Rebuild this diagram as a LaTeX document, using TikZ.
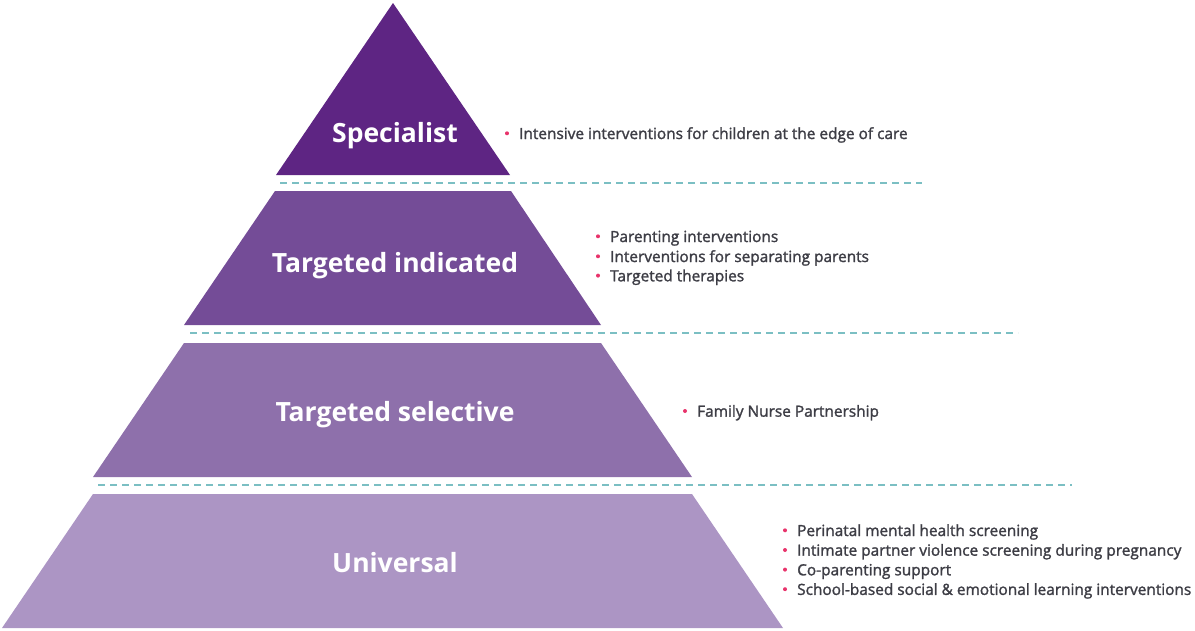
\documentclass[tikz,border=0pt]{standalone}
\usepackage{fontspec}
\setmainfont{Open Sans}
\newfontfamily\medfont{Open Sans}[FakeBold=1.6]
\definecolor{lay1}{HTML}{5E2583}
\definecolor{lay2}{HTML}{744C97}
\definecolor{lay3}{HTML}{8E70AB}
\definecolor{lay4}{HTML}{AC95C4}
\definecolor{teal}{HTML}{7BBFC3}
\definecolor{dotpink}{HTML}{E8336B}
\definecolor{txt}{HTML}{3D3D45}
\tikzset{
  title/.style={anchor=base, text=white, font=\fontsize{26.5}{30}\selectfont\bfseries, inner sep=0pt},
  item/.style={anchor=base west, text=txt, font=\medfont\fontsize{15.4}{18}\selectfont, inner sep=0pt},
  sep/.style={draw=teal, line width=1.5pt, dash pattern=on 7pt off 5pt},
  dot/.style={fill=dotpink},
}
\begin{document}
\begin{tikzpicture}[x=1pt,y=-1pt]
\useasboundingbox (0,0) rectangle (1195,630);
% layers
\fill[lay1] (393,3) -- (510,175) -- (276,175) -- cycle;
\fill[lay2] (275,191) -- (511,191) -- (601,325) -- (184,325) -- cycle;
\fill[lay3] (184,343) -- (601,343) -- (692,477) -- (93,477) -- cycle;
\fill[lay4] (93,494) -- (692,494) -- (783,628) -- (2,628) -- cycle;
% separators
\draw[sep] (280,183) -- (922,183);
\draw[sep] (190,333) -- (1018,333);
\draw[sep] (98,485) -- (1072,485);
% titles
\node[title] (t1) at (395,142) {Specialist};
\node[title] (t2) at (395,272) {Targeted indicated};
\node[title] (t3) at (395,421) {Targeted selective};
\node[title] (t4) at (395,572) {Universal};
% bullets
\fill[dot] (507,133.3) circle (2);
\node[item] (a1) at (519,139) {Intensive interventions for children at the edge of care};
\fill[dot] (598,236.3) circle (2);
\node[item] (b1) at (610,242) {Parenting interventions};
\fill[dot] (598,256.3) circle (2);
\node[item] (b2) at (610,262) {Interventions for separating parents};
\fill[dot] (598,275.6) circle (2);
\node[item] (b3) at (610,281.3) {Targeted therapies};
\fill[dot] (685,411) circle (2);
\node[item] (c1) at (697,416.7) {Family Nurse Partnership};
\fill[dot] (785,530.3) circle (2);
\node[item] (d1) at (797,536) {Perinatal mental health screening};
\fill[dot] (785,550) circle (2);
\node[item] (d2) at (797,555.7) {Intimate partner violence screening during pregnancy};
\fill[dot] (785,569.6) circle (2);
\node[item] (d3) at (797,575.3) {Co-parenting support};
\fill[dot] (785,589.2) circle (2);
\node[item] (d4) at (797,594.9) {School-based social \& emotional learning interventions};
\end{tikzpicture}
\end{document}
